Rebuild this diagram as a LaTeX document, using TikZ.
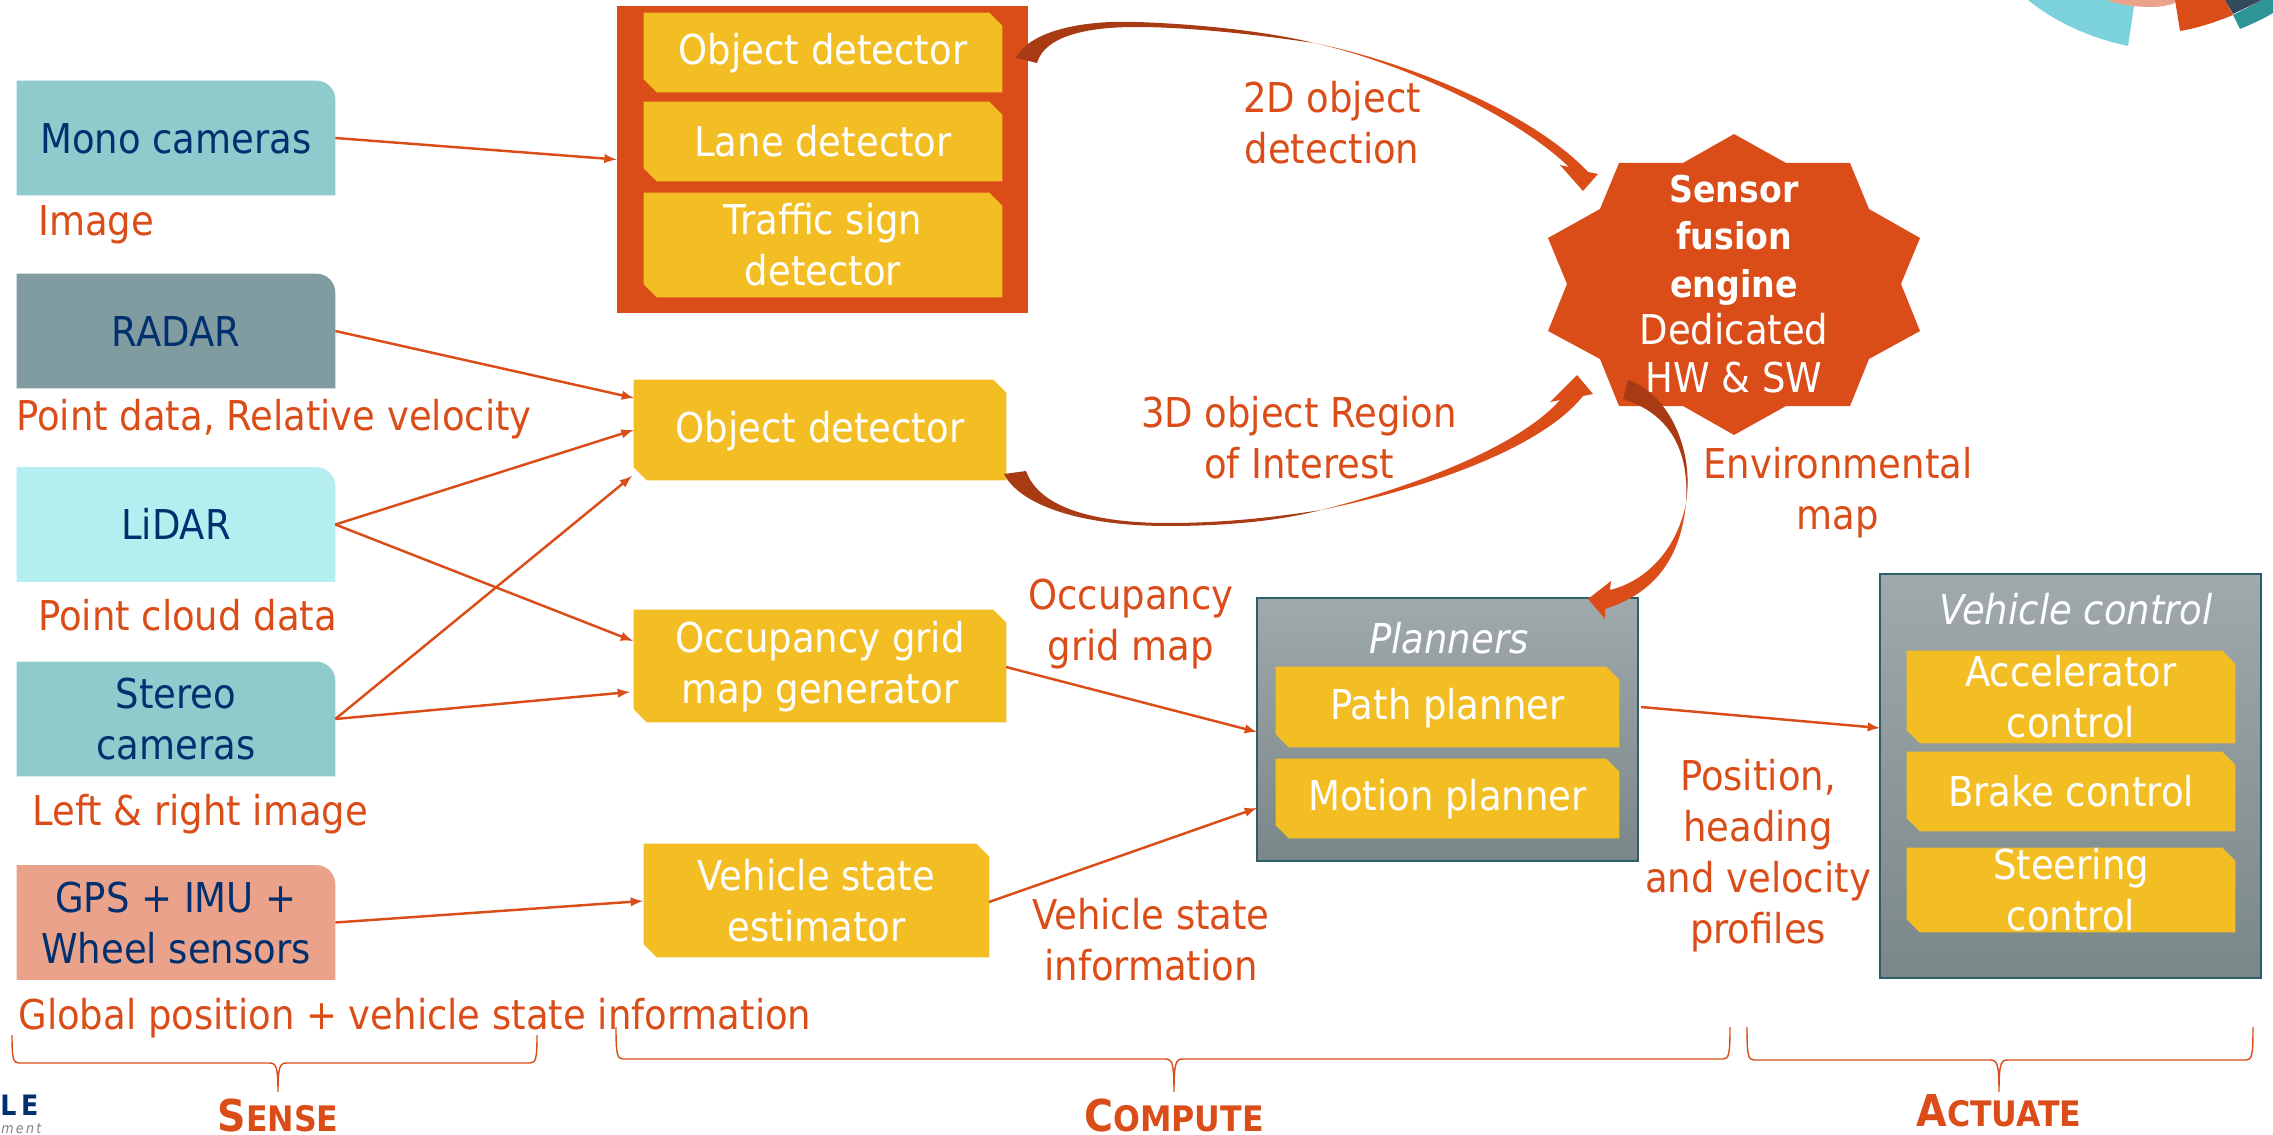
\documentclass[tikz,border=0pt]{standalone}
\usepackage{fontspec}
\setmainfont{DejaVu Sans Condensed}[BoldFont={DejaVu Sans Condensed Bold},ItalicFont={DejaVu Sans Condensed Oblique}]
\usepackage{tikz}
\usetikzlibrary{calc,backgrounds}

\definecolor{fireorange}{HTML}{DA4D19}
\definecolor{firedark}{HTML}{A93B14}
\definecolor{snipyellow}{HTML}{F3BD24}
\definecolor{navytext}{HTML}{003070}
\definecolor{monoteal}{HTML}{8FCBCD}
\definecolor{radargrey}{HTML}{809CA0}
\definecolor{lidarblue}{HTML}{B5EEF0}
\definecolor{gpssalmon}{HTML}{EAA28A}
\definecolor{grouptop}{HTML}{A0A9AB}
\definecolor{groupbot}{HTML}{7A8788}
\definecolor{groupline}{HTML}{2F5F66}
\definecolor{logoblue}{HTML}{7CD2DC}
\definecolor{logoteal}{HTML}{2E9498}
\definecolor{logonavy}{HTML}{334A5A}
\newcommand{\px}{0.02cm}
\newcommand{\ls}{\rule[-1.2pt]{0pt}{20pt}}
\newcommand{\boldline}[1]{{\fontsize{21}{27}\selectfont\bfseries #1}}
\newcommand{\phaseword}[2]{{\fontsize{25}{29}\selectfont #1}{\fontsize{20}{29}\selectfont #2}}

\tikzset{
	basetext/.style={font=\fontsize{23.4}{29}\selectfont,align=center,inner sep=0pt},
	sensor/.style={basetext,text=navytext,minimum width=318*\px,minimum height=114*\px},
	snip/.style={inner sep=0pt,append after command={\pgfextra{
		\fill[snipyellow] ($(\tikzlastnode.north east)+(-13,0)$) -- ($(\tikzlastnode.north east)+(0,13)$)
			-- (\tikzlastnode.south east) -- ($(\tikzlastnode.south west)+(13,0)$)
			-- ($(\tikzlastnode.south west)+(0,-13)$) -- (\tikzlastnode.north west) -- cycle;}}},
	says/.style={label={[basetext,text=white]center:#1}},
	note/.style={basetext,text=fireorange},
	group/.style={basetext,draw=groupline,line width=0.7pt,top color=grouptop,bottom color=groupbot},
	feed/.style={-latex,fireorange,line width=1.4pt},
	phase/.style={font=\bfseries,text=fireorange,inner sep=0pt,anchor=base}
}

\begin{document}
\begin{tikzpicture}[x=\px,y=-\px]
\useasboundingbox (0,0) rectangle (2273,1135);

% corner logo
\fill[logoblue] (2028,0) .. controls (2055,22) and (2090,38) .. (2128,46) -- (2134,6) .. controls (2125,5) and (2115,3) .. (2107,0) -- cycle;
\fill[gpssalmon] (2107,0) .. controls (2122,6) and (2140,7) .. (2153,7) .. controls (2160,7) and (2170,5) .. (2175,3) -- (2175,0) -- cycle;
\fill[fireorange] (2175,0) -- (2180,31) .. controls (2198,28) and (2216,22) .. (2233,15) -- (2225,0) -- cycle;
\fill[logoteal] (2233,15) -- (2240,29) .. controls (2252,24) and (2263,19) .. (2273,13) -- (2273,0) -- (2262,0) -- cycle;
\fill[logonavy] (2225,0) -- (2233,14) -- (2262,0) -- cycle;
\node[inner sep=0pt,text=navytext,anchor=base west,font=\bfseries\fontsize{16}{20}\selectfont] (logoA) at (0,1115) {L\,E};
\node[inner sep=0pt,text=gray,anchor=base west,font=\itshape\fontsize{8}{10}\selectfont] (logoB) at (1,1133) {m\,e\,n\,t};

% sensors
\node[sensor] (mono) at (176,138) {\ls Mono cameras};
\node[sensor] (radar) at (176,331) {\ls RADAR};
\node[sensor] (lidar) at (176,524.5) {\ls LiDAR};
\node[sensor] (stereo) at (176,719) {\ls Stereo\\\ls cameras};
\node[sensor] (gps) at (176,922.5) {\ls GPS + IMU +\\\ls Wheel sensors};
\begin{scope}[on background layer]
\foreach \s/\c in {mono/monoteal,radar/radargrey,lidar/lidarblue,stereo/monoteal,gps/gpssalmon}
	{
	\fill[\c] (\s.south west) -- (\s.north west) [rounded corners=19*\px] -- (\s.north east) [sharp corners] -- (\s.south east) -- cycle;
	}
\end{scope}

\node[note,anchor=base west] (imgnote) at (38,236) {Image};
\node[note,anchor=base west] (radnote) at (16,430) {Point data, Relative velocity};
\node[note,anchor=base west] (lidnote) at (38,630) {Point cloud data};
\node[note,anchor=base west] (stenote) at (32,825) {Left \& right image};
\node[note,anchor=base west] (gpsnote) at (18,1029) {Global position + vehicle state information};

% compute column
\node[fill=fireorange,minimum width=411*\px,minimum height=307*\px,inner sep=0pt] (detbox) at (822.5,159.5) {};
\node[snip,minimum width=358*\px,minimum height=79*\px,says={\ls Object detector}] (objcam) at (823,52.5) {};
\node[snip,minimum width=358*\px,minimum height=79*\px,says={\ls Lane detector}] (lane) at (823,141.5) {};
\node[snip,minimum width=358*\px,minimum height=104*\px,says={\ls Traffic sign\\\ls detector}] (traffic) at (823,245) {};
\node[snip,minimum width=372*\px,minimum height=100*\px,says={\ls Object detector}] (objdet) at (820,430) {};
\node[snip,minimum width=372*\px,minimum height=112*\px,says={\ls Occupancy grid\\\ls map generator}] (occ) at (820,666) {};
\node[snip,minimum width=345*\px,minimum height=113*\px,says={\ls Vehicle state\\\ls estimator}] (state) at (816.5,900.5) {};

\node[group,minimum width=381*\px,minimum height=263*\px] (planbox) at (1447.5,729.5) {};
\node[basetext,text=white,font=\itshape\fontsize{23.4}{29}\selectfont] (plantitle) at (1449,638) {Planners};
\node[snip,minimum width=343*\px,minimum height=80*\px,says={\ls Path planner}] (path) at (1447.5,707) {};
\node[snip,minimum width=343*\px,minimum height=79*\px,says={\ls Motion planner}] (motion) at (1447.5,798.5) {};

\node[group,minimum width=381*\px,minimum height=404*\px] (ctrlbox) at (2070.5,776) {};
\node[basetext,text=white,font=\itshape\fontsize{23.4}{29}\selectfont] (ctrltitle) at (2076,609) {Vehicle control};
\node[snip,minimum width=328*\px,minimum height=92*\px,says={\ls Accelerator\\\ls control}] (accel) at (2071,697) {};
\node[snip,minimum width=328*\px,minimum height=79*\px,says={\ls Brake control}] (brake) at (2071,791.5) {};
\node[snip,minimum width=328*\px,minimum height=84*\px,says={\ls Steering\\\ls control}] (steer) at (2071,890) {};

% fusion star
\fill[fireorange] (1734,134) -- (1786,163) -- (1850,163) -- (1869,209) -- (1920,238) -- (1901,284) -- (1920,331) -- (1869,359) -- (1850,406) -- (1786,406) -- (1734,435) -- (1683,406) -- (1619,406) -- (1600,359) -- (1548,331) -- (1567,284) -- (1548,238) -- (1600,209) -- (1619,163) -- (1683,163) -- cycle;
\node[basetext,text=white,font=\fontsize{23.4}{27}\selectfont] (fusion) at (1734,284) {\boldline{Sensor}\\\boldline{fusion}\\\boldline{engine}\\Dedicated\\HW \& SW};

% free ends on the box edges
\coordinate (objin) at (634,398);
\coordinate (objlow) at (632,476);
\coordinate (occin) at (633,641);
\coordinate (occlow) at (630,692);
\coordinate (statein) at (643,901);
\coordinate (occout) at (1006,667);
\coordinate (stateout) at (989,902);
\coordinate (planin) at (1257,732);
\coordinate (planlow) at (1257,808);
\coordinate (planout) at (1641,707);
\coordinate (ctrlin) at (1880,728);

\draw[feed] (mono.east) -- (detbox.west);
\draw[feed] (radar.east) -- (objin);
\draw[feed] (lidar.east) -- (objdet.west);
\draw[feed] (lidar.east) -- (occin);
\draw[feed] (stereo.east) -- (objlow);
\draw[feed] (stereo.east) -- (occlow);
\draw[feed] (gps.east) -- (statein);
\draw[feed] (occout) -- (planin);
\draw[feed] (stateout) -- (planlow);
\draw[feed] (planout) -- (ctrlin);

% tapered arrows
\fill[firedark] (1016,58) .. controls (1030,30) and (1085,20) .. (1136,22) .. controls (1200,24) and (1270,32) .. (1314,43) .. controls (1260,35) and (1190,27) .. (1136,27) .. controls (1090,27) and (1045,35) .. (1037,63) -- cycle;
\fill[fireorange] (1314,43) .. controls (1400,60) and (1530,110) .. (1588,172) -- (1598,174) -- (1583,191) -- (1560,165) -- (1569,167) .. controls (1515,115) and (1400,62) .. (1314,43) -- cycle;
\fill[firedark] (1004,474) .. controls (1020,505) and (1080,526) .. (1168,526) .. controls (1220,526) and (1275,522) .. (1321,510) .. controls (1270,518) and (1220,523) .. (1168,523) .. controls (1100,523) and (1040,510) .. (1026,471) -- cycle;
\fill[fireorange] (1321,510) .. controls (1420,490) and (1540,450) .. (1583,396) -- (1593,394) -- (1577,375) -- (1550,402) -- (1560,400) .. controls (1520,445) and (1420,485) .. (1321,510) -- cycle;
\fill[firedark] (1628,380) .. controls (1665,392) and (1695,445) .. (1686,503) .. controls (1690,445) and (1665,412) .. (1623,399) -- cycle;
\fill[fireorange] (1686,503) .. controls (1682,545) and (1665,590) .. (1605,609) -- (1605,619) -- (1588,599) -- (1611,581) -- (1610,590) .. controls (1650,580) and (1678,545) .. (1686,503) -- cycle;

% arrow notes
\node[note] (note2d) at (1332,123) {2D object\\detection};
\node[note] (note3d) at (1299,438) {3D object Region\\of Interest};
\node[note] (noteenv) at (1838,493) {Environmental\\map};
\node[note] (noteocc) at (1131,624) {Occupancy\\grid map};
\node[note] (notepos) at (1758,856) {Position,\\heading\\and velocity\\profiles};
\node[note] (notestate) at (1151,940) {Vehicle state\\information};

% phase braces
\foreach \xl/\xm/\xr/\ytop/\ybar in {12/278/537/1035/1063,616/1174/1730/1027/1059,1747/1999/2253/1027/1060}
	{
	\draw[fireorange,line width=0.8pt] (\xl,\ytop) .. controls (\xl,\ybar-5) and (\xl+1,\ybar) .. (\xl+7,\ybar) -- (\xm-9,\ybar)
		.. controls (\xm-2,\ybar) and (\xm,\ybar+3) .. (\xm,1092) .. controls (\xm,\ybar+3) and (\xm+2,\ybar) .. (\xm+9,\ybar)
		-- (\xr-7,\ybar) .. controls (\xr-1,\ybar) and (\xr,\ybar-5) .. (\xr,\ytop);
	}
\node[phase] (sense) at (278,1131) {\phaseword{S}{ENSE}};
\node[phase] (compute) at (1174,1131) {\phaseword{C}{OMPUTE}};
\node[phase] (actuate) at (1999,1126) {\phaseword{A}{CTUATE}};
\end{tikzpicture}
\end{document}
